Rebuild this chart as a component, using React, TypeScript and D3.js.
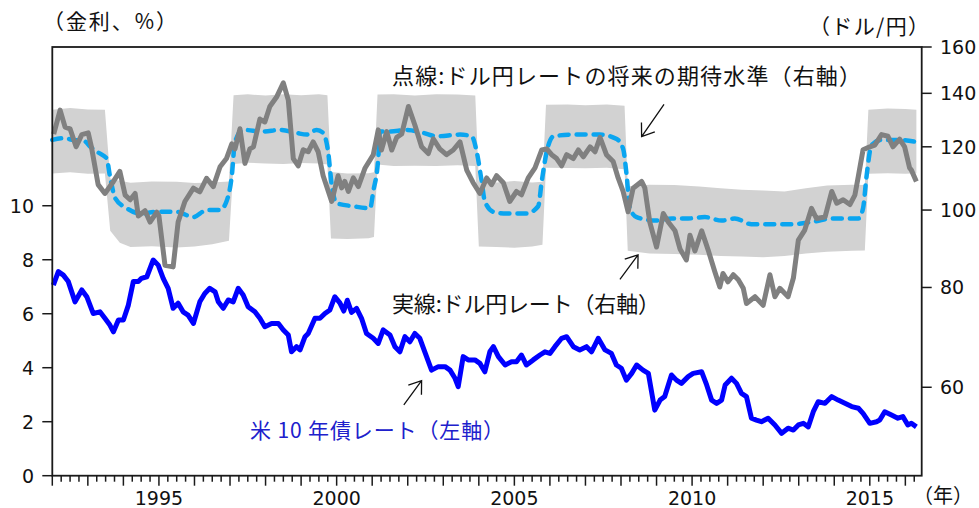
import React from "react";
import * as d3 from "d3";

// ドル円レート（実線, 右軸）
const fxDates = [
  1992.04, 1992.22, 1992.36, 1992.5, 1992.67, 1992.83, 1993.01, 1993.1, 1993.29, 1993.48,
  1993.72, 1993.9, 1994.05, 1994.19, 1994.33, 1994.42, 1994.61, 1994.75, 1994.94, 1995.0,
  1995.17, 1995.4, 1995.54, 1995.73, 1995.97, 1996.15, 1996.34, 1996.53, 1996.72, 1996.9,
  1997.05, 1997.14, 1997.28, 1997.42, 1997.56, 1997.66, 1997.84, 1997.98, 1998.12, 1998.31,
  1998.5, 1998.64, 1998.78, 1998.92, 1999.06, 1999.2, 1999.34, 1999.48, 1999.62, 1999.86,
  2000.04, 2000.14, 2000.23, 2000.33, 2000.47, 2000.61, 2000.8, 2001.03, 2001.17, 2001.26,
  2001.41, 2001.55, 2001.69, 2001.83, 2002.02, 2002.2, 2002.39, 2002.58, 2002.72, 2002.9,
  2003.09, 2003.28, 2003.47, 2003.66, 2003.84, 2004.03, 2004.22, 2004.36, 2004.5, 2004.69,
  2004.87, 2005.06, 2005.2, 2005.39, 2005.58, 2005.77, 2005.91, 2006.05, 2006.19, 2006.33,
  2006.47, 2006.66, 2006.8, 2006.94, 2007.13, 2007.27, 2007.41, 2007.59, 2007.78, 2007.92,
  2008.06, 2008.2, 2008.34, 2008.58, 2008.67, 2008.81, 2009.0, 2009.19, 2009.33, 2009.52,
  2009.66, 2009.84, 2009.94, 2010.08, 2010.27, 2010.46, 2010.64, 2010.78, 2010.87, 2011.01,
  2011.16, 2011.3, 2011.44, 2011.53, 2011.77, 2012.0, 2012.19, 2012.33, 2012.47, 2012.7,
  2012.85, 2012.99, 2013.17, 2013.36, 2013.5, 2013.74, 2013.93, 2014.07, 2014.25, 2014.44,
  2014.58, 2014.68, 2014.81, 2015.0, 2015.14, 2015.33, 2015.51, 2015.65, 2015.84, 2015.98,
  2016.12, 2016.17, 2016.31,
];
const fxRates = [
  124.5, 133.4, 127, 126.4, 120, 124.3, 124.9, 120, 107.6, 104.9,
  108.6, 111.8, 104.4, 103.0, 104.9, 98.3, 99.8, 96.6, 99.4, 98.3,
  85.3, 84.9, 96.6, 102.5, 106.5, 105.4, 109.6, 107, 113.3, 116,
  121, 119.3, 126.4, 114.4, 119.3, 120, 130, 128.9, 134.8, 138.5,
  144.3, 137.3, 116, 113.6, 119, 118.3, 121.7, 118.3, 110.4, 102.5,
  110.4, 106.6, 108.6, 105.5, 109.7, 107, 112.9, 117.3, 126, 118.9,
  125.4, 118.9, 123.3, 124.5, 134.8, 127.8, 120, 117.7, 122.8, 119.3,
  117.3, 118.9, 121.7, 112.2, 108.2, 104.9, 109.7, 107.6, 110.4, 108.2,
  102.5, 105.5, 104.5, 109.7, 112.9, 118.9, 119.3, 117.3, 116, 113.6,
  117.3, 116, 118.9, 116.6, 120, 118.3, 123.3, 117.3, 115, 109.7,
  105.5, 99.5, 106.5, 108.6, 106.6, 96.6, 89.9, 99.0, 96.6, 94.2,
  89.4, 86.6, 93.0, 88.9, 94.2, 88.9, 83.7, 80.1, 83.3, 81.3,
  83.0, 81.8, 79.8, 76.4, 77.9, 76.0, 83.0, 77.9, 79.8, 77.9,
  82.2, 91.7, 94.4, 100.5, 97.6, 98.0, 105.5, 102.0, 103, 101.6,
  104.4, 110.4, 119, 120, 120.6, 124.3, 123.7, 120, 122.7, 120,
  112.9, 112.2, 108.6,
];

// ドル円レートの将来の期待水準（点線, 右軸）
const expDates = [
  1992.0, 1992.3, 1992.6, 1992.9, 1993.07, 1993.3, 1993.53, 1993.62, 1993.77, 1994.1,
  1994.47, 1994.94, 1995.5, 1995.97, 1996.34, 1996.72, 1996.9, 1997.05, 1997.14, 1997.37,
  1997.93, 1998.4, 1998.87, 1999.16, 1999.44, 1999.62, 1999.76, 1999.86, 2000.0, 2000.47,
  2000.94, 2001.03, 2001.17, 2001.22, 2001.5, 2001.97, 2002.44, 2002.81, 2003.47, 2003.8,
  2003.94, 2004.08, 2004.17, 2004.41, 2004.78, 2005.34, 2005.67, 2005.77, 2005.91, 2006.1,
  2006.66, 2007.41, 2007.88, 2008.06, 2008.16, 2008.25, 2008.44, 2008.96, 2009.43, 2009.89,
  2010.36, 2010.83, 2011.2, 2011.67, 2012.14, 2012.8, 2013.36, 2013.93, 2014.68, 2014.81,
  2014.91, 2015.05, 2015.33, 2015.8, 2016.31,
];
const expRates = [
  122.4, 123, 122.4, 122, 120, 118, 116, 110.4, 103.5, 100.5,
  99.0, 99.5, 99.5, 98.0, 100, 100, 102.5, 110.4, 121.7, 126,
  125.4, 126, 124.9, 124.3, 126, 124.9, 118.3, 107.6, 102.0, 101.1,
  100.5, 105.5, 116, 125.4, 125.4, 126, 124.9, 123.7, 124.3, 123.7,
  118.3, 108.6, 102.5, 99.5, 99.0, 99.0, 101.1, 108.6, 118.3, 123.7,
  124.3, 124.3, 122.7, 119.3, 110.4, 100.5, 98.0, 97.0, 97.6, 97.6,
  98.0, 97.0, 97.6, 96.0, 96.0, 96.0, 96.6, 97.6, 97.6, 100.5,
  110.4, 120.6, 122.4, 122.4, 121.7,
];

// 期待水準のレンジ（灰色の帯, 右軸）
const bandDates = [
  1992.0, 1992.5, 1993.0, 1993.48, 1993.63, 1993.9, 1994.2, 1994.8, 1995.5, 1996.0,
  1996.5, 1996.97, 1997.1, 1997.5, 1998.0, 1998.5, 1999.0, 1999.5, 1999.74, 1999.84,
  2000.3, 2000.9, 2001.05, 2001.15, 2001.6, 2002.2, 2002.8, 2003.4, 2003.9, 2004.0,
  2004.5, 2005.0, 2005.5, 2005.79, 2005.89, 2006.5, 2007.0, 2007.6, 2008.1, 2008.19,
  2008.8, 2009.5, 2010.2, 2010.8, 2011.4, 2012.0, 2012.6, 2013.2, 2013.8, 2014.5,
  2014.86, 2014.96, 2015.5, 2016.0, 2016.31,
];
const bandHigh = [
  133.5, 134.2, 133.6, 133.5, 109.5, 108.8, 108.2, 108.6, 108.5, 108.1,
  108.3, 108.6, 139.2, 139.6, 139.1, 139.6, 139.2, 139.6, 139.2, 111.6,
  111.1, 111.2, 111.5, 139.5, 139.6, 139.1, 139.6, 139.5, 139.1, 108.6,
  108.3, 108.7, 108.3, 108.5, 135.5, 135.6, 135.3, 135.6, 135.1, 107.1,
  107.6, 107.5, 107.0, 106.5, 106.0, 105.8, 105.5, 106.5, 107.3, 107.6,
  107.5, 133.5, 134.0, 133.8, 133.5,
];
const bandLow = [
  111.1, 111.5, 111.0, 111.1, 94.2, 91.0, 89.9, 90.1, 89.8, 90.0,
  90.6, 91.5, 114.2, 114.6, 114.4, 114.2, 114.5, 114.4, 114.0, 92.1,
  92.0, 92.2, 92.5, 114.0, 113.5, 113.6, 113.5, 113.8, 113.5, 90.0,
  89.9, 89.7, 90.0, 90.5, 113.0, 112.9, 112.8, 113.0, 112.5, 88.9,
  88.2, 88.1, 87.9, 87.6, 87.5, 87.3, 87.6, 88.2, 88.7, 88.9,
  89.0, 111.0, 111.2, 111.0, 111.2,
];

// 米 10 年債レート（左軸, %）
const ustDates = [
  1992.03, 1992.17, 1992.31, 1992.45, 1992.64, 1992.83, 1992.97, 1993.15, 1993.34, 1993.48,
  1993.62, 1993.72, 1993.86, 1994.0, 1994.14, 1994.28, 1994.42, 1994.51, 1994.66, 1994.84,
  1994.98, 1995.12, 1995.26, 1995.4, 1995.54, 1995.68, 1995.82, 1995.97, 1996.15, 1996.29,
  1996.43, 1996.58, 1996.67, 1996.81, 1996.95, 1997.09, 1997.23, 1997.37, 1997.51, 1997.7,
  1997.84, 1997.98, 1998.17, 1998.36, 1998.5, 1998.64, 1998.73, 1998.87, 1998.97, 1999.11,
  1999.2, 1999.39, 1999.53, 1999.67, 1999.81, 1999.95, 2000.09, 2000.2, 2000.3, 2000.42,
  2000.56, 2000.7, 2000.84, 2001.03, 2001.17, 2001.31, 2001.5, 2001.64, 2001.78, 2001.92,
  2002.06, 2002.2, 2002.34, 2002.48, 2002.67, 2002.86, 2003.05, 2003.19, 2003.33, 2003.42,
  2003.56, 2003.7, 2003.89, 2004.03, 2004.17, 2004.31, 2004.41, 2004.55, 2004.74, 2004.92,
  2005.06, 2005.2, 2005.34, 2005.53, 2005.72, 2005.86, 2006.0, 2006.14, 2006.33, 2006.47,
  2006.66, 2006.84, 2007.03, 2007.17, 2007.36, 2007.55, 2007.73, 2007.87, 2008.01, 2008.15,
  2008.3, 2008.44, 2008.62, 2008.77, 2008.95, 2009.1, 2009.23, 2009.42, 2009.56, 2009.7,
  2009.89, 2010.03, 2010.27, 2010.41, 2010.55, 2010.69, 2010.83, 2010.93, 2011.11, 2011.25,
  2011.39, 2011.53, 2011.67, 2011.81, 2011.95, 2012.14, 2012.33, 2012.52, 2012.7, 2012.85,
  2012.99, 2013.13, 2013.27, 2013.41, 2013.55, 2013.74, 2013.93, 2014.11, 2014.3, 2014.49,
  2014.68, 2014.81, 2015.0, 2015.19, 2015.28, 2015.42, 2015.61, 2015.79, 2015.93, 2016.07,
  2016.17, 2016.31,
];
const ustYields = [
  7.06, 7.56, 7.43, 7.19, 6.44, 6.88, 6.63, 6.01, 6.07, 5.83,
  5.58, 5.33, 5.77, 5.77, 6.32, 7.19, 7.19, 7.31, 7.37, 7.99,
  7.8, 7.31, 6.94, 6.2, 6.39, 6.07, 5.95, 5.64, 6.44, 6.75,
  6.94, 6.81, 6.44, 6.2, 6.51, 6.44, 6.94, 6.69, 6.26, 6.07,
  5.83, 5.52, 5.64, 5.64, 5.4, 5.21, 4.59, 4.78, 4.66, 5.15,
  5.27, 5.83, 5.83, 6.01, 6.14, 6.63, 6.4, 6.1, 6.5, 6.05,
  6.2, 5.83, 5.27, 5.09, 4.9, 5.4, 5.21, 4.78, 4.59, 5.15,
  4.96, 5.27, 5.09, 4.59, 3.91, 4.04, 4.04, 3.91, 3.61, 3.3,
  4.41, 4.29, 4.29, 4.16, 3.85, 4.59, 4.78, 4.41, 4.1, 4.22,
  4.22, 4.47, 4.1, 4.29, 4.47, 4.59, 4.53, 4.78, 5.09, 5.15,
  4.78, 4.66, 4.78, 4.59, 5.09, 4.66, 4.53, 4.1, 3.98, 3.54,
  3.79, 4.1, 3.91, 3.79, 2.43, 2.8, 2.93, 3.73, 3.54, 3.42,
  3.67, 3.79, 3.85, 3.36, 2.8, 2.68, 2.8, 3.36, 3.61, 3.42,
  3.05, 2.93, 2.13, 2.06, 2.0, 2.13, 1.88, 1.57, 1.76, 1.69,
  1.88, 1.94, 1.81, 2.37, 2.74, 2.68, 2.93, 2.8, 2.68, 2.56,
  2.5, 2.31, 1.94, 2.0, 2.06, 2.37, 2.25, 2.13, 2.19, 1.88,
  1.94, 1.81,
];

const leftTicks = [0, 2, 4, 6, 8, 10];
const rightTicks = [60, 80, 100, 120, 140, 160];
const yearLabels = [1995, 2000, 2005, 2010, 2015];

const W = 979;
const H = 508;
const L = 52.3;
const R = 921.7;
const T = 47;
const B = 475.7;

const x = d3.scaleLinear().domain([1992, 2016.46]).range([L, R]);
const yL = d3.scaleLinear().domain([0, 15.88]).range([B, T]);
const yR = d3.scaleLog().domain([46.5, 160]).range([B, T]);

const numFont = "'DejaVu Sans', sans-serif";
const jpFont = "'Noto Sans CJK JP', sans-serif";

function arrowPath(x1: number, y1: number, x2: number, y2: number) {
  const a = Math.atan2(y1 - y2, x1 - x2);
  const len = 14;
  const s = 0.62;
  const p1 = [x2 + len * Math.cos(a + s), y2 + len * Math.sin(a + s)];
  const p2 = [x2 + len * Math.cos(a - s), y2 + len * Math.sin(a - s)];
  return `M${x1},${y1}L${x2},${y2}M${p1[0]},${p1[1]}L${x2},${y2}L${p2[0]},${p2[1]}`;
}

export default function App() {
  const idx = (n: number) => d3.range(n);

  const bandArea = d3
    .area<number>()
    .x((i) => x(bandDates[i]))
    .y0((i) => yR(bandLow[i]))
    .y1((i) => yR(bandHigh[i]));

  const expLine = d3
    .line<number>()
    .x((i) => x(expDates[i]))
    .y((i) => yR(expRates[i]))
    .curve(d3.curveMonotoneX);

  const fxLine = d3
    .line<number>()
    .x((i) => x(fxDates[i]))
    .y((i) => yR(fxRates[i]));

  const ustLine = d3
    .line<number>()
    .x((i) => x(ustDates[i]))
    .y((i) => yL(ustYields[i]));

  const xTicks: { v: number; major: boolean }[] = [];
  for (let yr = 1992; yr <= 2016; yr++) {
    for (let q = 0; q < 4; q++) {
      const v = yr + q / 4;
      if (v <= 2016.46) xTicks.push({ v, major: q === 0 });
    }
  }

  const arrows = [
    arrowPath(x(2009.21), yR(135.6), x(2008.58), yR(123.6)),
    arrowPath(x(2007.97), yR(81.9), x(2008.48), yR(87.9)),
    arrowPath(x(2001.89), yL(2.62), x(2002.39), yL(3.52)),
  ];

  return (
    <svg
      width={W}
      height={H}
      style={{ position: "absolute", left: 0, top: 0, background: "#fff" }}
    >
      <path d={bandArea(idx(bandDates.length)) || ""} fill="#d2d2d2" />
      <path
        d={expLine(idx(expDates.length)) || ""}
        fill="none"
        stroke="#0aa5f0"
        strokeWidth={4.5}
        strokeDasharray="9 8"
        strokeLinecap="round"
      />
      <path
        d={fxLine(idx(fxDates.length)) || ""}
        fill="none"
        stroke="#808080"
        strokeWidth={5}
        strokeLinejoin="round"
      />
      <path
        d={ustLine(idx(ustDates.length)) || ""}
        fill="none"
        stroke="#0000ff"
        strokeWidth={5}
        strokeLinejoin="round"
      />

      <rect x={L} y={T} width={R - L} height={B - T} fill="none" stroke="#1a1a1a" strokeWidth={1.8} />

      {leftTicks.map((v) => (
        <g key={"l" + v}>
          <line x1={L - 10} x2={L} y1={yL(v)} y2={yL(v)} stroke="#1a1a1a" strokeWidth={1.5} />
          <text x={34} y={yL(v)} dy="0.36em" textAnchor="end" fontFamily={numFont} fontSize={19} fill="#111">
            {v}
          </text>
        </g>
      ))}
      {rightTicks.map((v) => (
        <g key={"r" + v}>
          <line x1={R} x2={R + 10} y1={yR(v)} y2={yR(v)} stroke="#1a1a1a" strokeWidth={1.5} />
          <text x={940} y={yR(v)} dy="0.36em" textAnchor="start" fontFamily={numFont} fontSize={19} fill="#111">
            {v}
          </text>
        </g>
      ))}
      {xTicks.map((t) => (
        <line
          key={"x" + t.v}
          x1={x(t.v)}
          x2={x(t.v)}
          y1={B}
          y2={B + (t.major ? 10 : 6)}
          stroke="#1a1a1a"
          strokeWidth={1.5}
        />
      ))}
      {yearLabels.map((yr) => (
        <text key={"y" + yr} x={x(yr)} y={505} textAnchor="middle" fontFamily={numFont} fontSize={19} fill="#111">
          {yr}
        </text>
      ))}

      <text x={43} y={29} fontFamily={jpFont} fontSize={21} fill="#111" textLength={134} lengthAdjust="spacing">
        （金利、%）
      </text>
      <text x={809} y={34} fontFamily={jpFont} fontSize={21} fill="#111" textLength={120} lengthAdjust="spacing">
        （ドル/円）
      </text>
      <text x={913} y={503} fontFamily={jpFont} fontSize={20} fill="#111" textLength={60} lengthAdjust="spacing">
        （年）
      </text>

      <text x={392} y={84} fontFamily={jpFont} fontSize={22} fill="#111" textLength={469} lengthAdjust="spacing">
        点線:ドル円レートの将来の期待水準（右軸）
      </text>
      <text x={392} y={312} fontFamily={jpFont} fontSize={22} fill="#111" textLength={268} lengthAdjust="spacing">
        実線:ドル円レート（右軸）
      </text>
      <text x={250} y={438} fontFamily={jpFont} fontSize={21} fill="#2020cc" textLength={254} lengthAdjust="spacing">
        米 10 年債レート（左軸）
      </text>

      {arrows.map((d, i) => (
        <path key={"a" + i} d={d} fill="none" stroke="#111" strokeWidth={1.3} />
      ))}
    </svg>
  );
}
